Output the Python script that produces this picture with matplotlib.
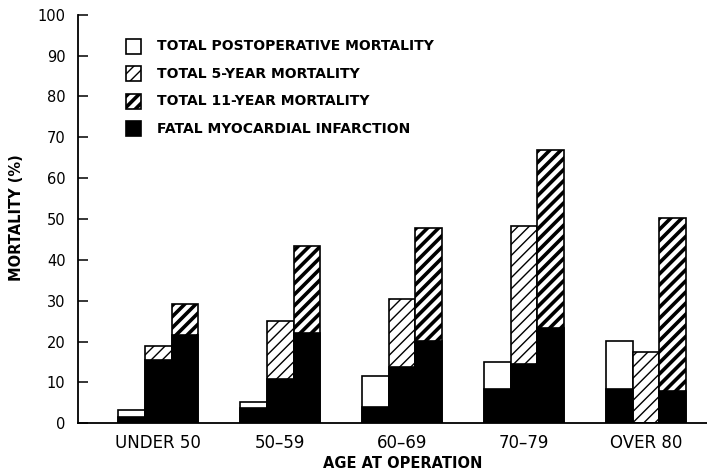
import matplotlib
matplotlib.use("Agg")
import matplotlib.pyplot as plt
import numpy as np
from matplotlib.patches import Rectangle

# values (% mortality)
groups = ["UNDER 50", "50\u201359", "60\u201369", "70\u201379", "OVER 80"]
post_total = [3.3, 5.2, 11.5, 14.9, 20.1]
post_mi = [1.5, 3.7, 3.9, 8.4, 8.3]
five_total = [18.8, 25.1, 30.5, 48.4, 17.4]
five_mi = [15.6, 10.8, 13.8, 14.4, 0.0]
eleven_total = [29.2, 43.5, 47.8, 67.0, 50.3]
eleven_mi = [21.6, 22.0, 20.1, 23.3, 7.8]

labels = ["TOTAL POSTOPERATIVE MORTALITY", "TOTAL 5-YEAR MORTALITY",
          "TOTAL 11-YEAR MORTALITY", "FATAL MYOCARDIAL INFARCTION"]

plt.rcParams['font.family'] = 'DejaVu Sans'

fig = plt.figure(figsize=(7.07, 4.76), dpi=100)
ax = fig.add_axes([78/707, 1-423.3/476, 629/707, 408.6/476])

x = np.arange(len(groups))
w = 0.221


def hatched(xs, tops, hatch, hlw):
    plt.rcParams['hatch.linewidth'] = hlw
    bars = ax.bar(xs, tops, w, color='white', edgecolor='black',
                  linewidth=1.2, hatch=hatch)
    for b in bars:
        if hasattr(b, 'set_hatch_linewidth'):
            b.set_hatch_linewidth(hlw)
    return bars


hatched(x - w, post_total, None, 1.0)
hatched(x, five_total, '///', 1.0)
hatched(x + w, eleven_total, '///', 2.6)
plt.rcParams['hatch.linewidth'] = 1.0
for off, mi in [(-w, post_mi), (0, five_mi), (w, eleven_mi)]:
    ax.bar(x + off, mi, w, color='black', edgecolor='black', linewidth=1.2)

ax.set_xlim(-0.656, 4.5)
ax.set_ylim(0, 100)
ax.set_yticks(range(0, 101, 10))
ax.set_xticks(x)
ax.set_xticklabels(groups, fontsize=12)
ax.tick_params(axis='x', length=0, pad=8)
ax.tick_params(axis='y', direction='in', length=7.5, width=1.1,
               labelsize=10.5, pad=9)
for s in ['top', 'right']:
    ax.spines[s].set_visible(False)
for s in ['left', 'bottom']:
    ax.spines[s].set_linewidth(1.3)

fig.text(403/707, 1-464/476, "AGE AT OPERATION", ha='center', va='center',
         fontsize=10.5, fontweight='bold')
fig.text(17/707, 1-218/476, "MORTALITY (%)", ha='center', va='center',
         rotation=90, fontsize=10.5, fontweight='bold')

# legend drawn by hand so each key keeps its own hatch weight
keys = [('white', None, 1.0), ('white', '///', 1.0),
        ('white', '///', 2.6), ('black', None, 1.0)]
for i, ((fc, hatch, hlw), lab) in enumerate(zip(keys, labels)):
    yc = 46 + 27.6 * i
    plt.rcParams['hatch.linewidth'] = hlw
    r = Rectangle((126/707, 1-(yc+7.5)/476), 15/707, 15/476,
                  transform=fig.transFigure, facecolor=fc, edgecolor='black',
                  linewidth=1.2, hatch=hatch)
    if hasattr(r, 'set_hatch_linewidth'):
        r.set_hatch_linewidth(hlw)
    fig.add_artist(r)
    fig.text(157/707, 1-yc/476, lab, ha='left', va='center', fontsize=10,
             fontweight='bold')
plt.rcParams['hatch.linewidth'] = 1.0

fig.savefig("out.png", dpi=100)
